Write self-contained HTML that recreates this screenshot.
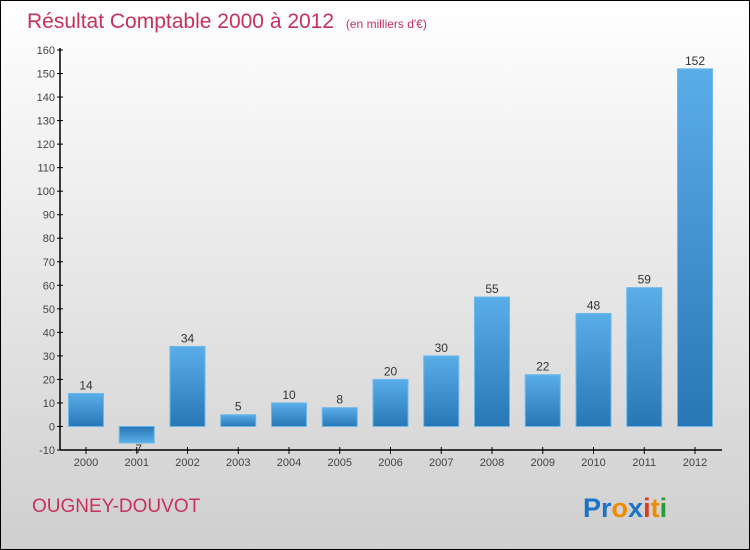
<!DOCTYPE html>
<html><head><meta charset="utf-8"><style>
html,body{margin:0;padding:0;width:750px;height:550px;overflow:hidden}
svg{display:block;font-family:"Liberation Sans",sans-serif}
</style></head><body>
<svg id="c" width="750" height="550" viewBox="0 0 750 550">
<defs>
<linearGradient id="bg" x1="0" y1="0" x2="0" y2="1"><stop offset="0" stop-color="#ffffff"/><stop offset="1" stop-color="#cfcfcf"/></linearGradient>
<linearGradient id="barg" x1="0" y1="0" x2="0" y2="1"><stop offset="0" stop-color="#5aaee8"/><stop offset="1" stop-color="#2877b5"/></linearGradient>
<linearGradient id="barn" x1="0" y1="0" x2="0" y2="1"><stop offset="0" stop-color="#2877b5"/><stop offset="1" stop-color="#5aaee8"/></linearGradient>
</defs>
<rect x="0.5" y="0.5" width="749" height="549" fill="url(#bg)" stroke="#000"/>
<text x="27" y="28" font-size="21" fill="#c8305e">Résultat Comptable 2000 à 2012 <tspan font-size="12" dx="6">(en milliers d'€)</tspan></text>
<text x="32" y="512" font-size="19" fill="#c8305e">OUGNEY-DOUVOT</text>
<text x="583" y="517" font-size="27" font-weight="bold"><tspan fill="#1a73c8">Pr</tspan><tspan fill="#f08a00">o</tspan><tspan fill="#1a73c8">x</tspan><tspan fill="#e03a1a">i</tspan><tspan fill="#f08a00">t</tspan><tspan fill="#2a9a3a">i</tspan></text>
<g id="plot"></g>
</svg>
<script>
const categories=["2000","2001","2002","2003","2004","2005","2006","2007","2008","2009","2010","2011","2012"];
const values=[14,-7,34,5,10,8,20,30,55,22,48,59,152];
const yTicks=[-10,0,10,20,30,40,50,60,70,80,90,100,110,120,130,140,150,160];
const NS="http://www.w3.org/2000/svg";
const g=document.getElementById('plot');
const yMin=-10,yMax=160,yTop=50,yBot=450;
function y(v){return yBot-(v-yMin)/(yMax-yMin)*(yBot-yTop);}
function x(i){return 86+i*50.75;}
function mk(t,a,txt){const e=document.createElementNS(NS,t);for(const k in a)e.setAttribute(k,a[k]);if(txt!==undefined)e.textContent=txt;g.appendChild(e);return e;}
let ax=mk('line',{x1:60,y1:yTop-2,x2:60,y2:yBot,stroke:'#000','stroke-width':1.5});


let bx=mk('line',{x1:60,y1:yBot,x2:722,y2:yBot,stroke:'#000','stroke-width':1.5});


yTicks.forEach(v=>{
  let t=mk('line',{x1:57,y1:y(v),x2:63,y2:y(v),stroke:'#000'});
  
  
  let l=mk('text',{x:55,y:y(v)+4,'font-size':11,'text-anchor':'end',fill:'#444'},String(v));
  
  
});
categories.forEach((c,i)=>{
  const v=values[i],cx=x(i),w=35;
  const top=y(Math.max(v,0)),bot=y(Math.min(v,0));
  let r=mk('rect',{x:cx-w/2,y:top,width:w,height:bot-top,fill:v<0?'url(#barn)':'url(#barg)',stroke:'#6bb8ec','stroke-width':1});
  
  
  let vl=mk('text',{x:cx,y:v<0?bot+10:top-4,'font-size':12,'text-anchor':'middle',fill:'#333'},String(v));
  
  
  let tk=mk('line',{x1:cx,y1:yBot-3,x2:cx,y2:yBot+4,stroke:'#000'});
  
  
  let xl=mk('text',{x:cx,y:466,'font-size':11,'text-anchor':'middle',fill:'#444'},c);
  
  
});
</script>
</body></html>
